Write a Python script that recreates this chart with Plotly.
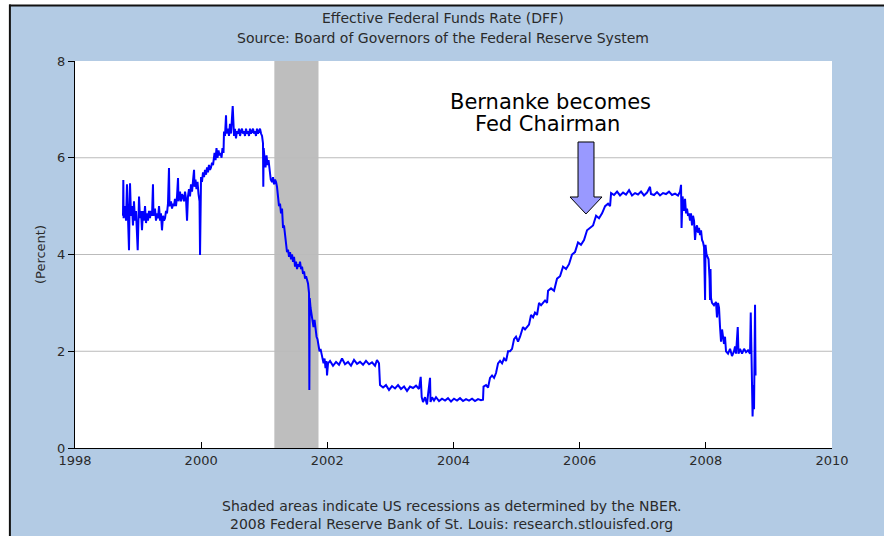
import plotly.graph_objects as go

# Effective Federal Funds Rate (approx.) -- decimal years
years = [
1998.761,1998.766,1998.771,1998.793,1998.809,1998.824,1998.840,1998.856,1998.864,1998.872,
1998.888,1998.904,1998.919,1998.935,1998.951,1998.967,1998.994,1999.007,1999.015,1999.030,
1999.046,1999.062,1999.078,1999.094,1999.110,1999.126,1999.141,1999.157,1999.173,1999.189,
1999.205,1999.221,1999.236,1999.244,1999.268,1999.284,1999.300,1999.316,1999.332,1999.348,
1999.363,1999.379,1999.395,1999.411,1999.427,1999.443,1999.458,1999.474,1999.490,1999.498,
1999.522,1999.538,1999.554,1999.569,1999.585,1999.601,1999.617,1999.633,1999.641,1999.665,
1999.680,1999.696,1999.712,1999.728,1999.744,1999.760,1999.776,1999.791,1999.807,1999.823,
1999.839,1999.855,1999.871,1999.887,1999.895,1999.910,1999.926,1999.942,1999.958,1999.974,
1999.982,1999.990,1999.998,2000.013,2000.029,2000.045,2000.061,2000.077,2000.093,2000.108,
2000.124,2000.140,2000.156,2000.172,2000.188,2000.212,2000.228,2000.243,2000.259,2000.275,
2000.291,2000.307,2000.323,2000.338,2000.354,2000.362,2000.378,2000.394,2000.402,2000.425,
2000.441,2000.457,2000.473,2000.500,2000.508,2000.521,2000.536,2000.552,2000.568,2000.584,
2000.600,2000.616,2000.632,2000.647,2000.663,2000.679,2000.695,2000.711,2000.727,2000.743,
2000.758,2000.774,2000.790,2000.806,2000.822,2000.838,2000.854,2000.869,2000.885,2000.901,
2000.917,2000.933,2000.949,2000.965,2000.980,2000.985,2000.991,2001.004,2001.020,2001.036,
2001.052,2001.068,2001.084,2001.103,2001.123,2001.139,2001.155,2001.171,2001.187,2001.202,
2001.218,2001.234,2001.250,2001.266,2001.282,2001.298,2001.313,2001.329,2001.345,2001.361,
2001.377,2001.393,2001.409,2001.425,2001.441,2001.456,2001.472,2001.488,2001.504,2001.520,
2001.536,2001.552,2001.567,2001.583,2001.599,2001.615,2001.631,2001.647,2001.663,2001.679,
2001.694,2001.710,2001.715,2001.721,2001.734,2001.749,2001.765,2001.781,2001.797,2001.813,
2001.829,2001.844,2001.860,2001.876,2001.892,2001.908,2001.924,2001.940,2001.956,2001.971,
2001.987,2001.995,2002.011,2002.043,2002.090,2002.138,2002.185,2002.233,2002.280,2002.328,
2002.375,2002.423,2002.471,2002.518,2002.566,2002.613,2002.661,2002.708,2002.756,2002.787,
2002.819,2002.835,2002.883,2002.930,2002.978,2003.025,2003.073,2003.121,2003.168,2003.216,
2003.263,2003.311,2003.358,2003.406,2003.453,2003.480,2003.496,2003.517,2003.549,2003.580,
2003.596,2003.628,2003.636,2003.660,2003.691,2003.723,2003.771,2003.818,2003.866,2003.913,
2003.961,2004.008,2004.056,2004.103,2004.151,2004.199,2004.246,2004.294,2004.341,2004.389,
2004.436,2004.468,2004.476,2004.516,2004.548,2004.579,2004.611,2004.643,2004.674,2004.706,
2004.738,2004.770,2004.801,2004.833,2004.865,2004.896,2004.928,2004.960,2004.991,2005.023,
2005.055,2005.102,2005.134,2005.166,2005.197,2005.229,2005.261,2005.292,2005.324,2005.356,
2005.388,2005.419,2005.451,2005.483,2005.499,2005.546,2005.594,2005.641,2005.689,2005.736,
2005.784,2005.831,2005.879,2005.926,2005.974,2006.021,2006.069,2006.117,2006.165,2006.212,
2006.260,2006.307,2006.355,2006.403,2006.450,2006.482,2006.498,2006.545,2006.593,2006.640,
2006.688,2006.735,2006.783,2006.830,2006.878,2006.925,2006.973,2007.020,2007.068,2007.115,
2007.131,2007.179,2007.226,2007.274,2007.321,2007.369,2007.416,2007.464,2007.512,2007.559,
2007.591,2007.607,2007.615,2007.631,2007.654,2007.670,2007.686,2007.702,2007.718,2007.734,
2007.749,2007.765,2007.781,2007.797,2007.813,2007.829,2007.845,2007.860,2007.876,2007.892,
2007.908,2007.924,2007.940,2007.956,2007.972,2007.988,2007.995,2008.011,2008.027,2008.043,
2008.059,2008.066,2008.074,2008.082,2008.098,2008.129,2008.161,2008.177,2008.193,2008.209,
2008.225,2008.241,2008.257,2008.272,2008.288,2008.304,2008.320,2008.352,2008.384,2008.415,
2008.447,2008.463,2008.479,2008.506,2008.518,2008.542,2008.574,2008.606,2008.637,2008.669,
2008.701,2008.712,2008.720,2008.733,2008.741,2008.756,2008.764,2008.780,2008.788,
]
rates = [
4.80,5.54,4.75,5.00,4.70,5.45,4.60,4.09,4.90,5.47,
4.80,5.00,4.60,5.10,4.70,4.90,4.09,4.80,5.20,4.75,
4.90,4.50,4.90,4.70,5.00,4.65,4.85,4.70,4.90,4.75,
4.90,4.80,5.45,4.80,4.95,4.70,4.85,4.75,5.00,4.70,
4.85,4.50,4.80,4.70,4.75,4.90,4.85,5.05,5.79,5.00,
5.10,4.95,5.05,5.00,5.15,5.00,5.20,5.58,5.10,5.30,
5.10,5.25,5.20,5.10,5.30,5.15,4.70,5.20,5.35,5.20,
5.45,5.30,5.50,5.75,5.40,5.55,5.35,5.50,5.25,5.10,
3.99,5.00,5.60,5.50,5.70,5.60,5.75,5.65,5.80,5.70,
5.85,5.75,5.80,5.90,5.85,6.10,5.95,6.20,6.00,6.15,
6.05,6.10,6.00,6.20,6.10,6.54,6.45,6.88,6.50,6.60,
6.45,6.70,6.50,7.07,6.55,6.45,6.60,6.40,6.55,6.50,
6.60,6.45,6.55,6.60,6.50,6.55,6.45,6.60,6.50,6.55,
6.45,6.60,6.50,6.55,6.60,6.50,6.55,6.45,6.60,6.50,
6.55,6.60,6.50,6.45,6.30,5.40,6.20,6.00,5.80,6.05,
5.85,5.95,5.70,5.55,5.50,5.60,5.45,5.55,5.50,5.40,
5.20,5.00,5.05,4.85,4.95,4.55,4.60,4.40,4.30,4.05,
4.10,3.95,4.05,3.90,4.00,3.85,3.95,3.75,3.85,3.70,
3.80,3.75,3.85,3.70,3.75,3.60,3.65,3.50,3.55,3.45,
3.40,3.20,1.20,3.10,2.90,2.75,2.60,2.50,2.65,2.45,
2.30,2.25,2.10,2.00,2.05,1.95,1.90,1.75,1.85,1.65,
1.80,1.50,1.75,1.80,1.70,1.78,1.72,1.85,1.73,1.78,
1.70,1.82,1.74,1.78,1.72,1.80,1.73,1.77,1.70,1.82,
1.75,1.30,1.25,1.30,1.20,1.28,1.23,1.30,1.22,1.27,
1.18,1.27,1.24,1.29,1.22,1.47,1.05,0.95,1.05,0.90,
1.10,1.45,0.95,1.05,0.98,1.05,0.97,1.02,0.98,1.03,
0.96,1.02,0.98,1.03,0.97,1.01,0.98,1.02,0.97,1.01,
0.99,1.00,1.27,1.30,1.25,1.45,1.50,1.45,1.55,1.75,
1.80,1.75,1.85,1.80,2.00,2.00,2.05,2.25,2.30,2.20,
2.30,2.50,2.45,2.50,2.55,2.75,2.70,2.80,2.75,3.00,
2.95,3.00,3.05,3.00,3.25,3.30,3.25,3.50,3.55,3.75,
3.70,3.80,4.00,4.05,4.25,4.20,4.30,4.50,4.55,4.60,
4.80,4.75,4.85,5.00,5.05,5.00,5.27,5.23,5.30,5.22,
5.28,5.24,5.33,5.22,5.27,5.24,5.30,5.22,5.28,5.40,
5.25,5.23,5.29,5.22,5.27,5.25,5.30,5.23,5.26,5.22,
5.30,5.44,4.55,5.20,4.90,5.15,4.85,4.95,4.80,4.85,
4.70,4.85,4.60,4.80,4.70,4.30,4.55,4.60,4.45,4.55,
4.40,4.50,4.30,4.25,4.15,3.06,4.20,4.00,3.95,3.90,
3.50,3.06,3.70,3.10,3.00,2.95,3.02,2.70,3.00,2.90,
2.50,2.20,2.45,2.30,2.15,2.30,2.00,1.95,2.05,1.90,
2.00,2.10,1.95,2.50,1.95,2.05,1.95,2.05,1.98,2.02,
1.95,2.80,1.90,1.50,0.65,1.30,0.80,2.96,1.50,
]

recession_start = [2001.16]
recession_end = [2001.86]
grid_values = [2, 4, 6]
y_ticks = [0, 2, 4, 6, 8]
x_ticks = [1998, 2000, 2002, 2004, 2006, 2008, 2010]

FONT = "DejaVu Sans, Verdana, sans-serif"
BG = "#B3CBE4"
TXT = "#2a2a2a"

fig = go.Figure()
fig.add_trace(go.Scatter(x=years, y=rates, mode="lines",
                         line=dict(color="#0000FF", width=2),
                         hoverinfo="skip", showlegend=False))

shapes = []
for g in grid_values:
    shapes.append(dict(type="line", xref="x", yref="y", x0=x_ticks[0], x1=x_ticks[-1],
                       y0=g, y1=g, line=dict(color="#BBBBBB", width=1), layer="below"))
for s, e in zip(recession_start, recession_end):
    shapes.append(dict(type="rect", xref="x", yref="paper", x0=s, x1=e, y0=0, y1=1,
                       fillcolor="#BEBEBE", line=dict(width=0), layer="below"))

# white outer strips and dark frame of the screenshot
shapes += [
    dict(type="rect", xref="paper", yref="paper", x0=-0.3, x1=-0.0872, y0=-0.5, y1=1.5,
         fillcolor="white", line=dict(width=0), layer="below"),
    dict(type="rect", xref="paper", yref="paper", x0=-0.3, x1=1.3, y0=1.1447, y1=1.5,
         fillcolor="white", line=dict(width=0), layer="below"),
    dict(type="line", xref="paper", yref="paper", x0=-0.0860, x1=-0.0860, y0=-0.5, y1=1.1460,
         line=dict(color="#111111", width=2)),
    dict(type="line", xref="paper", yref="paper", x0=-0.0870, x1=1.3, y0=1.1434, y1=1.1434,
         line=dict(color="#111111", width=2)),
]
# block arrow pointing at Bernanke's start
shapes.append(dict(type="path", xref="paper", yref="paper",
                   path="M0.6645,0.7907 L0.6856,0.7907 L0.6856,0.6486 L0.6962,0.6486 "
                        "L0.6750,0.6047 L0.6539,0.6486 L0.6645,0.6486 Z",
                   fillcolor="#9999FF", line=dict(color="#000000", width=1), layer="above"))

annotations = [
    dict(text="Effective Federal Funds Rate (DFF)", xref="paper", yref="paper",
         x=0.486, y=1.111, showarrow=False, font=dict(family=FONT, size=14, color=TXT),
         xanchor="center", yanchor="middle"),
    dict(text="Source: Board of Governors of the Federal Reserve System", xref="paper", yref="paper",
         x=0.486, y=1.0594, showarrow=False, font=dict(family=FONT, size=14, color=TXT),
         xanchor="center", yanchor="middle"),
    dict(text="Shaded areas indicate US recessions as determined by the NBER.", xref="paper",
         yref="paper", x=0.498, y=-0.1499, showarrow=False,
         font=dict(family=FONT, size=14, color=TXT), xanchor="center", yanchor="middle"),
    dict(text="2008 Federal Reserve Bank of St. Louis: research.stlouisfed.org", xref="paper",
         yref="paper", x=0.498, y=-0.1964, showarrow=False,
         font=dict(family=FONT, size=14, color=TXT), xanchor="center", yanchor="middle"),
    dict(text="(Percent)", xref="paper", yref="paper", x=-0.0462, y=0.4987, textangle=-90,
         showarrow=False, font=dict(family=FONT, size=13, color=TXT),
         xanchor="center", yanchor="middle"),
    dict(text="Bernanke becomes", xref="paper", yref="paper", x=0.6275, y=0.894,
         showarrow=False, font=dict(family=FONT, size=21, color="#000000"),
         xanchor="center", yanchor="middle"),
    dict(text="Fed Chairman", xref="paper", yref="paper", x=0.6248, y=0.837,
         showarrow=False, font=dict(family=FONT, size=21, color="#000000"),
         xanchor="center", yanchor="middle"),
]

fig.update_layout(
    width=884, height=536,
    margin=dict(l=75, r=52, t=61, b=88, pad=0),
    paper_bgcolor=BG, plot_bgcolor="white",
    shapes=shapes, annotations=annotations,
    showlegend=False,
    xaxis=dict(range=[1998, 2010], tickvals=x_ticks, ticktext=[str(t) for t in x_ticks],
               showgrid=False, zeroline=False, showline=True, linecolor="#000000", linewidth=1,
               ticks="inside", ticklen=6, tickcolor="#000000", tickwidth=1,
               tickfont=dict(family=FONT, size=13, color=TXT)),
    yaxis=dict(range=[0, 8], tickvals=y_ticks, showgrid=False, zeroline=False,
               showline=True, linecolor="#000000", linewidth=1,
               ticks="outside", ticklen=6, tickcolor="#000000", tickwidth=1,
               tickfont=dict(family=FONT, size=13, color=TXT)),
)

fig.write_html("out.html", config={"displayModeBar": False},
               post_script="document.body.style.margin='0';document.body.style.overflow='hidden';")
